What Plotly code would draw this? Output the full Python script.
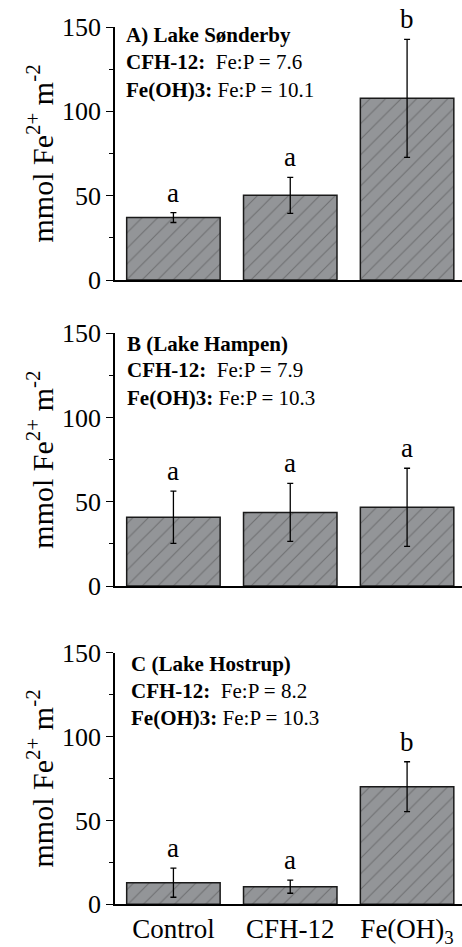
import plotly.graph_objects as go

categories = ["Control", "CFH-12", "Fe(OH)3"]
tick_labels = ["Control", "CFH-12", "Fe(OH)<sub>3</sub>"]

vals_A = [37, 50.2, 107.7]
err_A = [2.9, 10.7, 35]
letters_A = ["a", "a", "b"]

vals_B = [40.8, 43.7, 46.7]
err_B = [15.5, 17.2, 23.2]
letters_B = ["a", "a", "a"]

vals_C = [12.9, 10.5, 70.1]
err_C = [8.7, 3.9, 14.9]
letters_C = ["a", "a", "b"]

titles = ["A) Lake Sønderby", "B (Lake Hampen)", "C (Lake Hostrup)"]
ratio_cfh = ["7.6", "7.9", "8.2"]
ratio_feoh = ["10.1", "10.3", "10.3"]

W, H = 462, 947
FONT = "Liberation Serif"

# pixel geometry of panels (top px of 150, bottom px of 0)
panels_px = [(27, 280), (333.3, 586), (652.7, 904.3)]
text_x_px = [124, 125, 129]
text_rel = [(0.968, 0.862, 0.751), (0.956, 0.855, 0.743), (0.957, 0.847, 0.739)]

fig = go.Figure()
data = [(vals_A, err_A, letters_A), (vals_B, err_B, letters_B), (vals_C, err_C, letters_C)]

layout = dict(
    width=W, height=H,
    margin=dict(l=0, r=0, t=0, b=0),
    paper_bgcolor="white", plot_bgcolor="white",
    showlegend=False,
    font=dict(family=FONT, color="black"),
)
annotations = []

for i, (vals, errs, lets) in enumerate(data):
    n = i + 1
    xa = "x" if n == 1 else f"x{n}"
    ya = "y" if n == 1 else f"y{n}"
    top_px, bot_px = panels_px[i]
    dom = [1 - bot_px / H, 1 - top_px / H]
    fig.add_trace(go.Bar(
        x=list(range(3)), y=vals, xaxis=xa, yaxis=ya, width=0.8,
        marker=dict(color="#939598", line=dict(color="#1a1a1a", width=1.5),
                    pattern=dict(shape="/", fgcolor="#4a4a4a", bgcolor="#939598",
                                 size=11, solidity=0.1)),
        error_y=dict(type="data", array=errs, visible=True, color="black",
                     thickness=1.3, width=3),
    ))
    xkey = "xaxis" if n == 1 else f"xaxis{n}"
    ykey = "yaxis" if n == 1 else f"yaxis{n}"
    xaxis = dict(
        domain=[115 / W, 1.0], range=[-0.5, 2.47], anchor=ya,
        showline=True, linecolor="black", linewidth=1.5, ticks="",
        showticklabels=(n == 3),
        tickfont=dict(family=FONT, size=27, color="black"),
        showgrid=False, zeroline=False, automargin=False, fixedrange=True,
    )
    if n == 3:
        xaxis["tickvals"] = list(range(3))
        xaxis["ticktext"] = tick_labels
    layout[xkey] = xaxis
    layout[ykey] = dict(
        domain=dom, range=[0, 150], anchor=xa,
        showline=True, linecolor="black", linewidth=1.5,
        ticks="outside", ticklen=7, tickwidth=1.3, tickcolor="black",
        tickvals=[0, 50, 100, 150],
        tickfont=dict(family=FONT, size=26, color="black"),
        minor=dict(tickvals=[25, 75, 125], ticks="outside", ticklen=4,
                   tickwidth=1.3, tickcolor="black"),
        showgrid=False, zeroline=False, automargin=False, fixedrange=True,
    )
    # y axis title
    annotations.append(dict(
        x=40 / W, xref="paper", y=(dom[0] + dom[1]) / 2, yref="paper",
        text="mmol Fe<sup>2+</sup> m<sup>-2</sup>", textangle=-90,
        showarrow=False, xanchor="center", yanchor="middle",
        font=dict(family=FONT, size=30, color="black"),
    ))
    # significance letters
    for j in range(3):
        annotations.append(dict(
            x=j, xref=xa, y=vals[j] + errs[j], yref=ya, yshift=3,
            text=lets[j], showarrow=False, xanchor="center", yanchor="bottom",
            font=dict(family=FONT, size=27, color="black"),
        ))
    # in-panel text
    r = text_rel[i]
    yd = f"{ya} domain"
    tx = text_x_px[i] / W
    annotations.append(dict(x=tx, xref="paper", y=r[0], yref=yd, text=f"<b>{titles[i]}</b>",
                            showarrow=False, xanchor="left", yanchor="middle",
                            font=dict(family=FONT, size=21, color="black")))
    annotations.append(dict(x=tx, xref="paper", y=r[1], yref=yd,
                            text=f"<b>CFH-12:</b>  Fe:P = {ratio_cfh[i]}",
                            showarrow=False, xanchor="left", yanchor="middle",
                            font=dict(family=FONT, size=21, color="black")))
    annotations.append(dict(x=tx, xref="paper", y=r[2], yref=yd,
                            text=f"<b>Fe(OH)3:</b> Fe:P = {ratio_feoh[i]}",
                            showarrow=False, xanchor="left", yanchor="middle",
                            font=dict(family=FONT, size=21, color="black")))

layout["annotations"] = annotations
layout["bargap"] = 0.2
fig.update_layout(**layout)
fig.write_html("out.html")
